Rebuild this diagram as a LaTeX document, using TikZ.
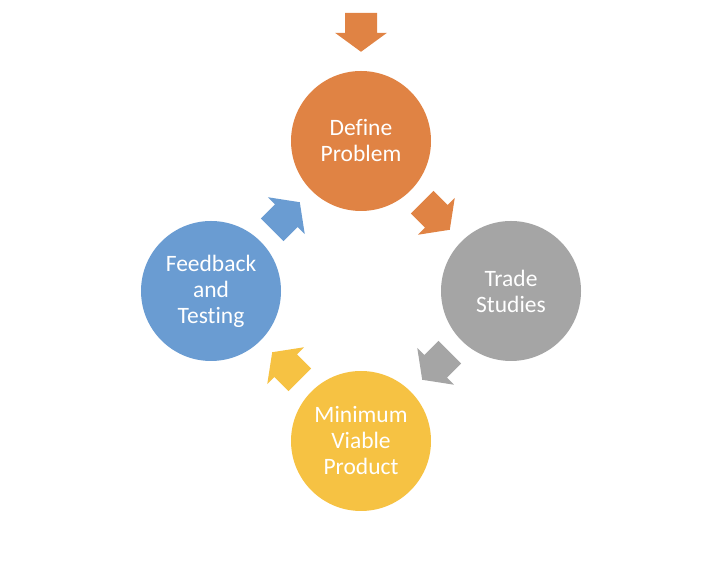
\documentclass[tikz,border=0pt]{standalone}
\usepackage{fontspec}
\setmainfont{Carlito}[Ligatures={NoCommon}]
\usetikzlibrary{calc}
\definecolor{cOrange}{HTML}{E08344}
\definecolor{cGray}{HTML}{A5A5A5}
\definecolor{cYellow}{HTML}{F6C243}
\definecolor{cBlue}{HTML}{6A9CD2}
\tikzset{
  stagecircle/.style={circle, minimum size=140pt, inner sep=0pt, align=center,
    text=white, font=\fontsize{23.5pt}{26pt}\selectfont},
  blockarrow/.pic={\fill (-19.5,-16) -- (0.5,-16) -- (0.5,-26) -- (19.5,0) -- (0.5,26) -- (0.5,16) -- (-19.5,16) -- cycle;}
}
\begin{document}
\begin{tikzpicture}[x=1pt,y=1pt]
\useasboundingbox (0,0) rectangle (728,564);
\node[stagecircle, fill=cOrange] (define) at (361,423) {Define\\Problem};
\node[stagecircle, fill=cGray] (trade) at (511,273) {Trade\\Studies};
\node[stagecircle, fill=cYellow] (mvp) at (361,123) {Minimum\\Viable\\Product};
\node[stagecircle, fill=cBlue] (feedback) at (211,273) {Feedback\\and\\Testing};
\coordinate (start) at ($(define.north)+(0,38.5)$);
\pic[fill=cOrange, rotate=-90] at (start) {blockarrow};
\pic[fill=cOrange, rotate=-45] at ($(define)!0.5!(trade)$) {blockarrow};
\pic[fill=cGray, rotate=-135] at ($(trade)!0.5!(mvp)$) {blockarrow};
\pic[fill=cYellow, rotate=135] at ($(mvp)!0.5!(feedback)$) {blockarrow};
\pic[fill=cBlue, rotate=45] at ($(feedback)!0.5!(define)$) {blockarrow};
\end{tikzpicture}
\end{document}
